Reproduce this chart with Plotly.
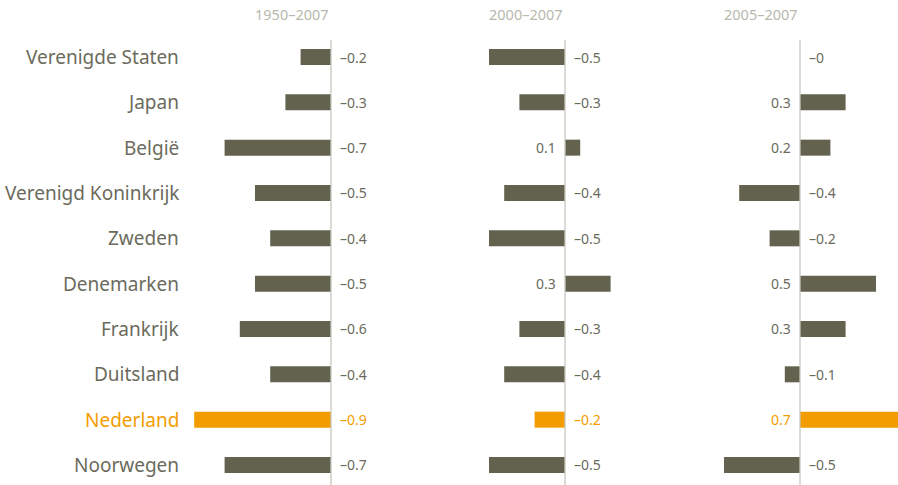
import plotly.graph_objects as go

countries = ["Verenigde Staten", "Japan", "België", "Verenigd Koninkrijk", "Zweden",
             "Denemarken", "Frankrijk", "Duitsland", "Nederland", "Noorwegen"]
periods = ["1950–2007", "2000–2007", "2005–2007"]
v_1950_2007 = [-0.2, -0.3, -0.7, -0.5, -0.4, -0.5, -0.6, -0.4, -0.9, -0.7]
v_2000_2007 = [-0.5, -0.3, 0.1, -0.4, -0.5, 0.3, -0.3, -0.4, -0.2, -0.5]
v_2005_2007 = [-0.0, 0.3, 0.2, -0.4, -0.2, 0.5, 0.3, -0.1, 0.7, -0.5]
series = [v_1950_2007, v_2000_2007, v_2005_2007]
highlight = "Nederland"

W, H = 898, 485
DARK = "#62624f"
ORANGE = "#f39c00"
LABEL = "#6b6b5c"
TITLE = "#b8b8ad"
ZERO = "#c8c8be"
FONT = "Noto Sans"

zero_px = [331, 565, 800]
px_per_unit = 152.0
row0, row_step = 57.0, 45.33

fig = go.Figure()
ys = list(range(len(countries)))
for k, vals in enumerate(series):
    xa = "x" if k == 0 else f"x{k+1}"
    colors = [ORANGE if c == highlight else DARK for c in countries]
    fig.add_trace(go.Bar(x=vals, y=ys, orientation="h", xaxis=xa, yaxis="y",
                         marker=dict(color=colors, line=dict(width=0)),
                         width=16 / row_step, hoverinfo="skip", showlegend=False))
    r0 = -zero_px[k] / px_per_unit
    r1 = r0 + W / px_per_unit
    axname = "xaxis" if k == 0 else f"xaxis{k+1}"
    ax = dict(range=[r0, r1], domain=[0, 1], visible=False, fixedrange=True)
    if k > 0:
        ax["overlaying"] = "x"
    fig.update_layout(**{axname: ax})
    # zero line
    fig.add_shape(type="line", xref=xa, yref="paper", x0=0, x1=0,
                  y0=0, y1=1 - 40 / H, line=dict(color=ZERO, width=1.3), layer="above")
    # title
    fig.add_annotation(xref=xa, yref="paper", x=0, xshift=-39, y=1 - 14 / H,
                       text=periods[k], showarrow=False, xanchor="center", yanchor="middle",
                       font=dict(family=FONT, size=14.5, color=TITLE))
    # value labels
    for i, (c, v) in enumerate(zip(countries, vals)):
        col = ORANGE if c == highlight else LABEL
        if v <= 0:
            txt = "–" + (f"{abs(v):.1f}" if abs(v) >= 0.05 else "0")
            fig.add_annotation(xref=xa, yref="y", x=0, y=i, xshift=7, xanchor="left",
                               yanchor="middle", text=txt, showarrow=False,
                               font=dict(family=FONT, size=14, color=col))
        else:
            fig.add_annotation(xref=xa, yref="y", x=0, y=i, xshift=-7, xanchor="right",
                               yanchor="middle", text=f"{v:.1f}", showarrow=False,
                               font=dict(family=FONT, size=14, color=col))

for i, c in enumerate(countries):
    col = ORANGE if c == highlight else LABEL
    fig.add_annotation(xref="paper", yref="y", x=181 / W, y=i, xanchor="right",
                       yanchor="middle", text=c, showarrow=False,
                       font=dict(family=FONT, size=19, color=col))

ytop = -row0 / row_step
ybot = (H - row0) / row_step
fig.update_layout(
    width=W, height=H, margin=dict(l=0, r=0, t=0, b=0),
    paper_bgcolor="white", plot_bgcolor="white",
    yaxis=dict(range=[ybot, ytop], visible=False, fixedrange=True),
    barmode="overlay", showlegend=False,
)
fig.write_html("out.html", config={"displayModeBar": False, "staticPlot": True},
               post_script="document.body.style.margin='0';document.body.style.overflow='hidden';")
